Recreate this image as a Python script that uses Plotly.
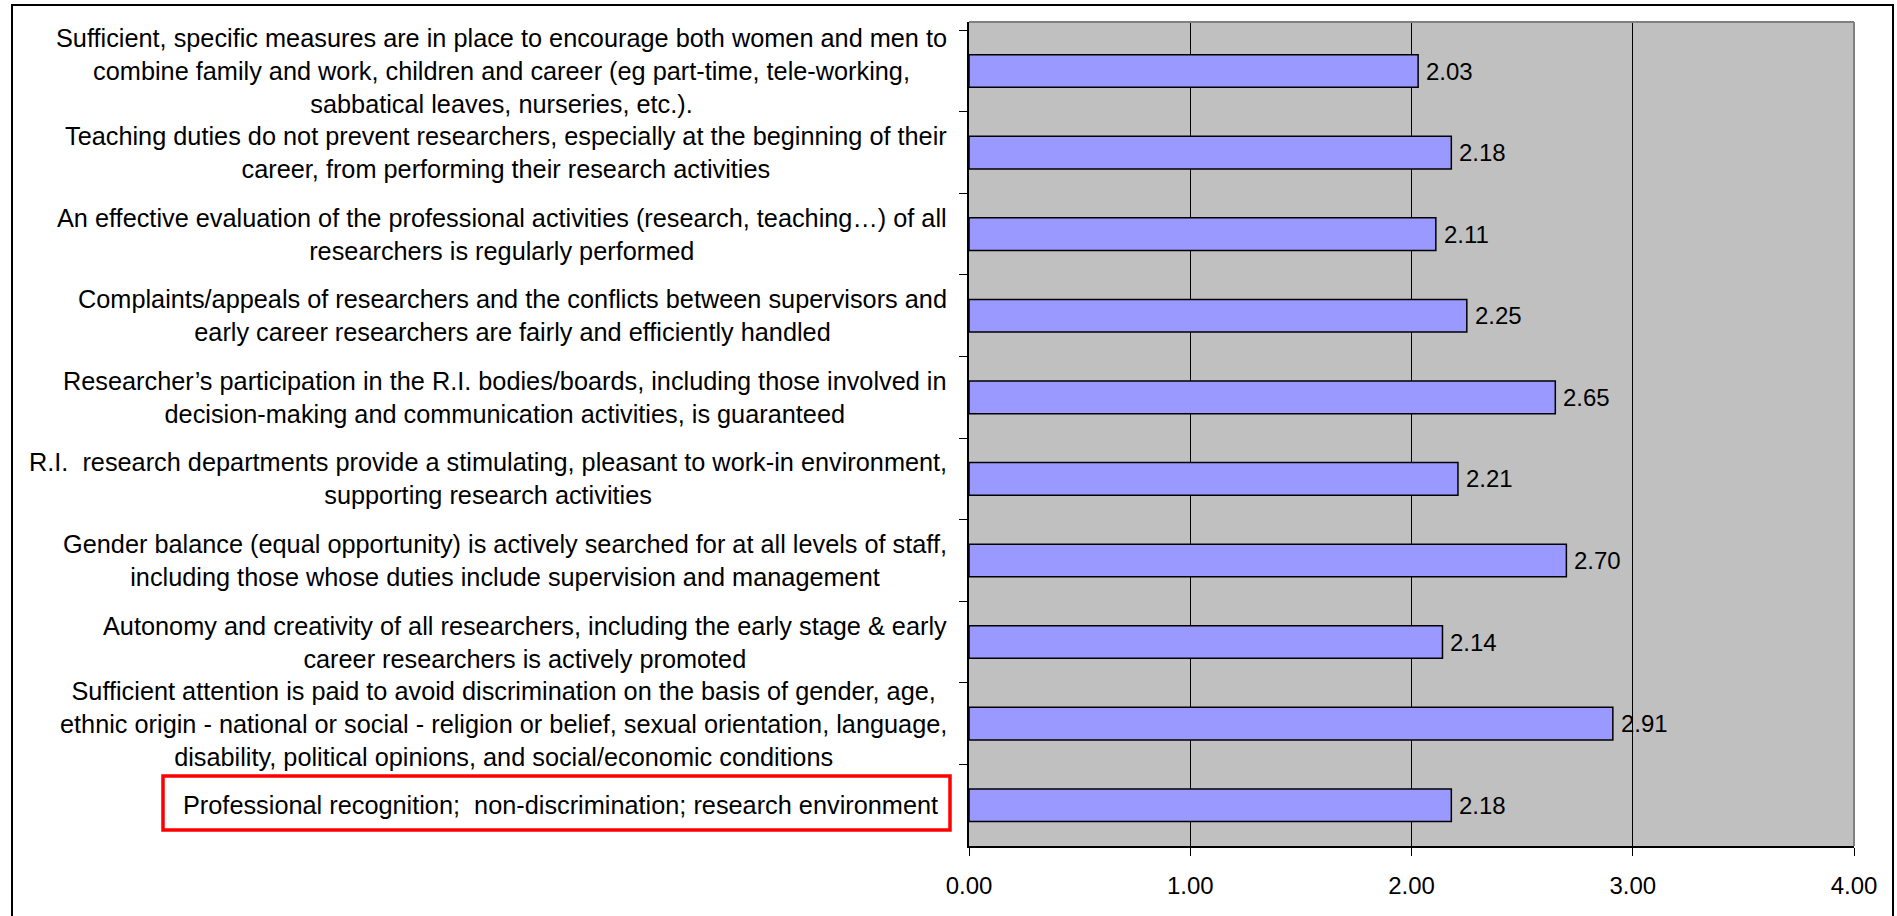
import plotly.graph_objects as go

categories = [
    "Sufficient, specific measures are in place to encourage both women and men to<br>combine family and work, children and career (eg part-time, tele-working,<br>sabbatical leaves, nurseries, etc.).",
    "Teaching duties do not prevent researchers, especially at the beginning of their<br>career, from performing their research activities",
    "An effective evaluation of the professional activities (research, teaching…) of all<br>researchers is regularly performed",
    "Complaints/appeals of researchers and the conflicts between supervisors and<br>early career researchers are fairly and efficiently handled",
    "Researcher’s participation in the R.I. bodies/boards, including those involved in<br>decision-making and communication activities, is guaranteed",
    "R.I.  research departments provide a stimulating, pleasant to work-in environment,<br>supporting research activities",
    "Gender balance (equal opportunity) is actively searched for at all levels of staff,<br>including those whose duties include supervision and management",
    "Autonomy and creativity of all researchers, including the early stage & early<br>career researchers is actively promoted",
    "Sufficient attention is paid to avoid discrimination on the basis of gender, age,<br>ethnic origin - national or social - religion or belief, sexual orientation, language,<br>disability, political opinions, and social/economic conditions",
    "Professional recognition;  non-discrimination; research environment",
]
values = [2.03, 2.18, 2.11, 2.25, 2.65, 2.21, 2.70, 2.14, 2.91, 2.18]
x_ticks = [0, 1, 2, 3, 4]
x_tick_labels = ["0.00", "1.00", "2.00", "3.00", "4.00"]
highlighted = categories[-1]

FONT = "Liberation Sans, Arial, sans-serif"
FS = 25.3
VFS = 24

W, H = 1897, 916
L, R, T, B = 969, 1854, 22, 846  # plot area pixels


def px_x(p):
    return (p - L) / (R - L)


def px_y(p):
    return (B - p) / (B - T)


fig = go.Figure()
fig.add_trace(go.Bar(
    x=values, y=categories, orientation="h", width=0.4,
    marker=dict(color="#9999FF", line=dict(color="black", width=1.5)),
    showlegend=False, hoverinfo="skip",
))

annotations = []
for c in categories:
    annotations.append(dict(
        x=px_x(940 if c == highlighted else 949), xref="paper", y=c, yref="y",
        xanchor="right", yanchor="middle",
        text=c, showarrow=False, align="center",
        font=dict(family=FONT, size=FS, color="black"),
    ))
for c, v in zip(categories, values):
    annotations.append(dict(
        x=v, xref="x", y=c, yref="y", xanchor="left", yanchor="middle",
        xshift=6, text=f"{v:.2f}", showarrow=False,
        font=dict(family=FONT, size=VFS, color="black"),
    ))

shapes = [
    # outer frame
    dict(type="rect", xref="paper", yref="paper",
         x0=px_x(12), x1=px_x(1893), y0=px_y(925), y1=px_y(5),
         line=dict(color="black", width=2), layer="below"),
    # gray top/right plot border
    dict(type="line", xref="paper", yref="paper", x0=0, x1=1, y0=1, y1=1,
         line=dict(color="#808080", width=2), layer="above"),
    dict(type="line", xref="paper", yref="paper", x0=1, x1=1, y0=0, y1=1,
         line=dict(color="#808080", width=2), layer="above"),
    # red highlight box
    dict(type="rect", xref="paper", yref="paper",
         x0=px_x(163), x1=px_x(950), y0=px_y(830), y1=px_y(776),
         line=dict(color="#FF0000", width=3.5), layer="above"),
]

fig.update_layout(
    width=W, height=H,
    margin=dict(l=L, r=W - R, t=T, b=H - B, pad=0),
    paper_bgcolor="white", plot_bgcolor="#C0C0C0",
    font=dict(family=FONT, size=FS, color="black"),
    annotations=annotations, shapes=shapes,
    xaxis=dict(
        range=[0, 4], tickvals=x_ticks, ticktext=x_tick_labels,
        showgrid=True, gridcolor="black", gridwidth=1, zeroline=False,
        showline=True, linecolor="black", linewidth=1.5,
        ticks="outside", ticklen=8, tickcolor="black", tickwidth=1.2,
        ticklabelstandoff=9,
        tickfont=dict(family=FONT, size=VFS, color="black"),
        fixedrange=True,
    ),
    yaxis=dict(
        type="category", categoryorder="array", categoryarray=categories,
        autorange="reversed", tickson="boundaries",
        showticklabels=False, showgrid=False, zeroline=False,
        showline=True, linecolor="black", linewidth=1.5,
        ticks="outside", ticklen=8, tickcolor="black", tickwidth=1.2,
        fixedrange=True,
    ),
)

fig.write_html(
    "out.html",
    config={"displayModeBar": False},
    post_script="document.body.style.margin='0';document.body.style.overflow='hidden';",
)
